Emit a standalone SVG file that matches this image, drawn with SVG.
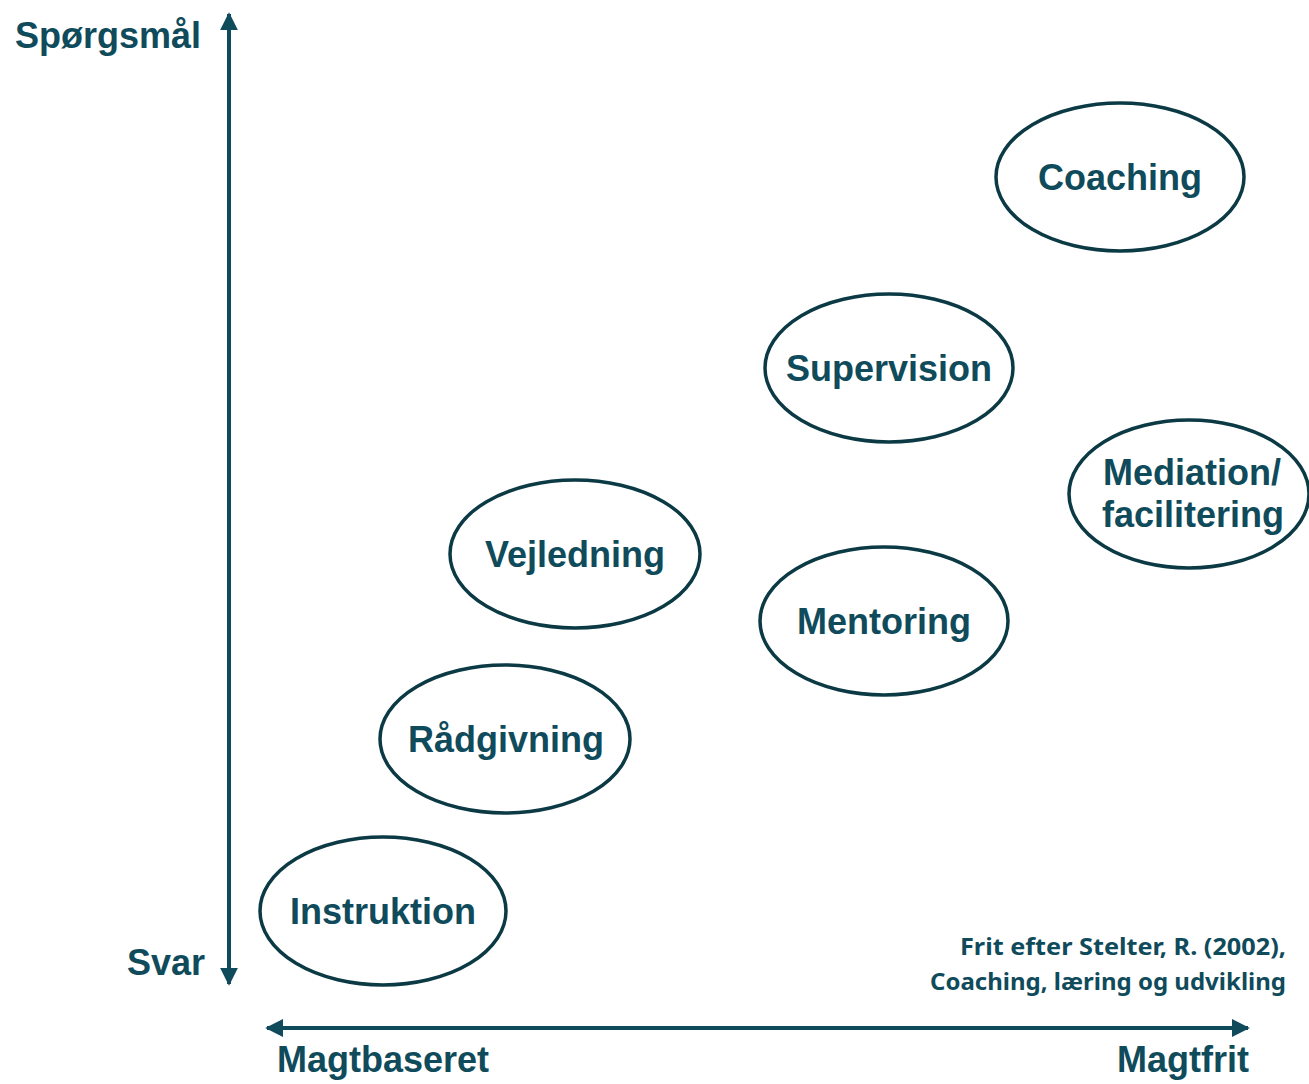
<svg xmlns="http://www.w3.org/2000/svg" width="1309" height="1084" viewBox="0 0 1309 1084">
<style>
.bg{fill:#ffffff}
.ax{stroke:#0f4b5b;stroke-width:4;fill:none}
.el{fill:#ffffff;stroke:#0b3a45;stroke-width:3.5}
.t{font-family:"Liberation Sans",Arial,sans-serif;font-weight:bold;font-size:36px;fill:#0f4b5b;text-anchor:middle}
.lab{font-family:"Liberation Sans",Arial,sans-serif;font-weight:bold;font-size:36px;fill:#0f4b5b}
.cite{font-family:"Noto Sans","Liberation Sans",sans-serif;font-weight:bold;font-size:24px;fill:#0f4b5b;text-anchor:end}
</style>
<defs>
<marker id="ah" viewBox="0 0 10 10" refX="9" refY="5" markerWidth="4.5" markerHeight="4.5" orient="auto-start-reverse" markerUnits="strokeWidth">
<path d="M0,0 L10,5 L0,10 z" fill="#0f4b5b"/>
</marker>
</defs>
<rect class="bg" x="0" y="0" width="1309" height="1084"/>
<g id="connectors">
<line class="ax" x1="229" y1="984" x2="229" y2="14" marker-start="url(#ah)" marker-end="url(#ah)"/>
<line class="ax" x1="267" y1="1028" x2="1248" y2="1028" marker-start="url(#ah)" marker-end="url(#ah)"/>
</g>
<g id="axis-labels">
<text class="lab" x="15" y="48">Spørgsmål</text>
<text class="lab" x="127" y="975">Svar</text>
<text class="lab" x="277" y="1072">Magtbaseret</text>
<text class="lab" x="1117" y="1072">Magtfrit</text>
</g>
<g id="coaching">
<ellipse class="el" cx="1120" cy="177" rx="124" ry="74"/>
<text class="t" x="1120" y="190">Coaching</text>
</g>
<g id="supervision">
<ellipse class="el" cx="889" cy="368" rx="124" ry="74"/>
<text class="t" x="889" y="381">Supervision</text>
</g>
<g id="mediation">
<ellipse class="el" cx="1189" cy="494" rx="120" ry="74"/>
<text class="t" x="1192" y="485">Mediation/</text>
<text class="t" x="1193" y="527">facilitering</text>
</g>
<g id="vejledning">
<ellipse class="el" cx="575" cy="554" rx="125" ry="74"/>
<text class="t" x="575" y="567">Vejledning</text>
</g>
<g id="mentoring">
<ellipse class="el" cx="884" cy="621" rx="124" ry="74"/>
<text class="t" x="884" y="634">Mentoring</text>
</g>
<g id="raadgivning">
<ellipse class="el" cx="505" cy="739" rx="125" ry="74"/>
<text class="t" x="506" y="752">Rådgivning</text>
</g>
<g id="instruktion">
<ellipse class="el" cx="383" cy="911" rx="123" ry="74"/>
<text class="t" x="383" y="924">Instruktion</text>
</g>
<g id="citation">
<text class="cite" x="1286" y="955" textLength="326" lengthAdjust="spacingAndGlyphs">Frit efter Stelter, R. (2002),</text>
<text class="cite" x="1286" y="990" textLength="356" lengthAdjust="spacingAndGlyphs">Coaching, læring og udvikling</text>
</g>
</svg>
